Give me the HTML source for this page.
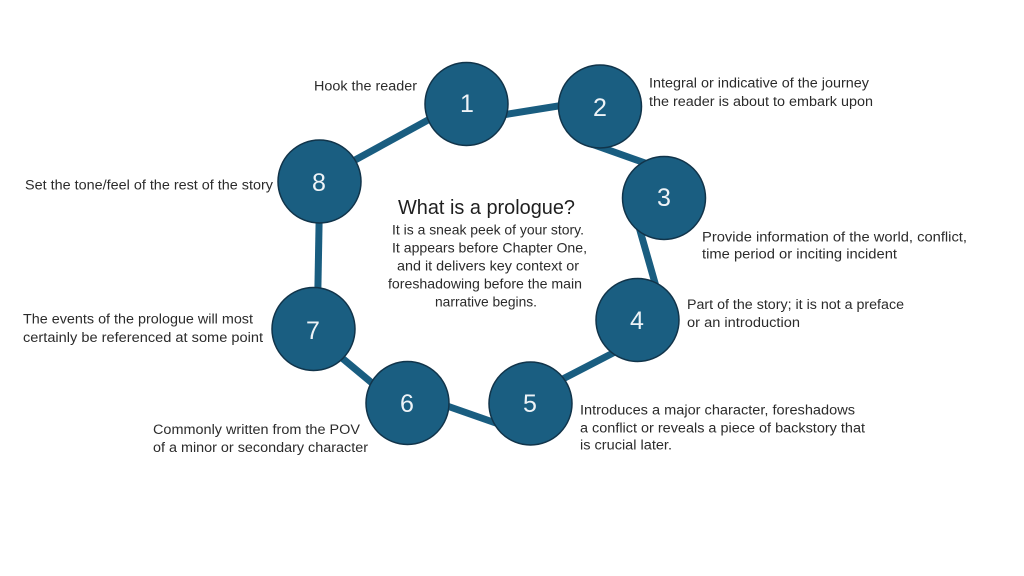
<!DOCTYPE html>
<html>
<head>
<meta charset="utf-8">
<style>
  html,body{margin:0;padding:0;background:#ffffff;}
  svg{display:block;}
  .lbl{font-family:"Liberation Sans",sans-serif;font-size:13.5px;fill:#2b2b2b;}
  .num{font-family:"Liberation Sans",sans-serif;font-size:25px;fill:#eef3f7;text-anchor:middle;}
</style>
</head>
<body>
<svg width="1024" height="576" viewBox="0 0 1024 576" xmlns="http://www.w3.org/2000/svg">
  <rect width="1024" height="576" fill="#ffffff"/>
  <!-- connectors -->
  <g stroke="#195d80" stroke-width="7" stroke-linecap="butt" fill="none">
    <line x1="490" y1="117" x2="580" y2="102.5"/>
    <line x1="590" y1="143.4" x2="655" y2="166.6"/>
    <line x1="637" y1="220" x2="657" y2="290"/>
    <line x1="625" y1="346.8" x2="555" y2="383"/>
    <line x1="430" y1="400" x2="510" y2="428"/>
    <line x1="330" y1="348" x2="390" y2="398"/>
    <line x1="319.5" y1="200" x2="317.5" y2="310"/>
    <line x1="445" y1="110.7" x2="335" y2="171"/>
  </g>
  <!-- circles -->
  <g fill="#1a5e81" stroke="#11344a" stroke-width="1.5">
    <circle cx="466.5" cy="104" r="41.5"/>
    <circle cx="600" cy="106.5" r="41.5"/>
    <circle cx="664" cy="198" r="41.5"/>
    <circle cx="637.5" cy="320" r="41.5"/>
    <circle cx="530.5" cy="403.5" r="41.5"/>
    <circle cx="407.5" cy="403" r="41.5"/>
    <circle cx="313.5" cy="329" r="41.5"/>
    <circle cx="319.5" cy="181.5" r="41.5"/>
  </g>
  <!-- numbers -->
  <text class="num" x="467" y="112">1</text>
  <text class="num" x="600" y="116">2</text>
  <text class="num" x="664" y="206">3</text>
  <text class="num" x="637" y="329">4</text>
  <text class="num" x="530" y="412">5</text>
  <text class="num" x="407" y="412">6</text>
  <text class="num" x="313" y="339">7</text>
  <text class="num" x="319" y="191">8</text>

  <!-- center text -->
  <text x="398" y="214" font-family="Liberation Sans, sans-serif" font-size="20.5" fill="#1f1f1f" textLength="177" lengthAdjust="spacingAndGlyphs">What is a prologue?</text>
  <g class="lbl" style="font-size:14px">
    <text x="392" y="234.5" textLength="192" lengthAdjust="spacingAndGlyphs">It is a sneak peek of your story.</text>
    <text x="392" y="252.5" textLength="195" lengthAdjust="spacingAndGlyphs">It appears before Chapter One,</text>
    <text x="397" y="270.5" textLength="182" lengthAdjust="spacingAndGlyphs">and it delivers key context or</text>
    <text x="388" y="288.5" textLength="194" lengthAdjust="spacingAndGlyphs">foreshadowing before the main</text>
    <text x="435" y="306.5" textLength="102" lengthAdjust="spacingAndGlyphs">narrative begins.</text>
  </g>

  <!-- labels -->
  <g class="lbl">
    <text x="314" y="90.5" textLength="103" lengthAdjust="spacingAndGlyphs">Hook the reader</text>

    <text x="649" y="87.5" textLength="220" lengthAdjust="spacingAndGlyphs">Integral or indicative of the journey</text>
    <text x="649" y="106" textLength="224" lengthAdjust="spacingAndGlyphs">the reader is about to embark upon</text>

    <text x="702" y="241.5" textLength="265" lengthAdjust="spacingAndGlyphs">Provide information of the world, conflict,</text>
    <text x="702" y="258.5" textLength="195" lengthAdjust="spacingAndGlyphs">time period or inciting incident</text>

    <text x="687" y="309" textLength="217" lengthAdjust="spacingAndGlyphs">Part of the story; it is not a preface</text>
    <text x="687" y="327" textLength="113" lengthAdjust="spacingAndGlyphs">or an introduction</text>

    <text x="580" y="414.5" textLength="275" lengthAdjust="spacingAndGlyphs">Introduces a major character, foreshadows</text>
    <text x="580" y="432.5" textLength="285" lengthAdjust="spacingAndGlyphs">a conflict or reveals a piece of backstory that</text>
    <text x="580" y="449.5" textLength="92" lengthAdjust="spacingAndGlyphs">is crucial later.</text>

    <text x="153" y="434" textLength="207" lengthAdjust="spacingAndGlyphs">Commonly written from the POV</text>
    <text x="153" y="452" textLength="215" lengthAdjust="spacingAndGlyphs">of a minor or secondary character</text>

    <text x="23" y="323.5" textLength="230" lengthAdjust="spacingAndGlyphs">The events of the prologue will most</text>
    <text x="23" y="342" textLength="240" lengthAdjust="spacingAndGlyphs">certainly be referenced at some point</text>

    <text x="25" y="189.5" textLength="248" lengthAdjust="spacingAndGlyphs">Set the tone/feel of the rest of the story</text>
  </g>
</svg>
</body>
</html>
